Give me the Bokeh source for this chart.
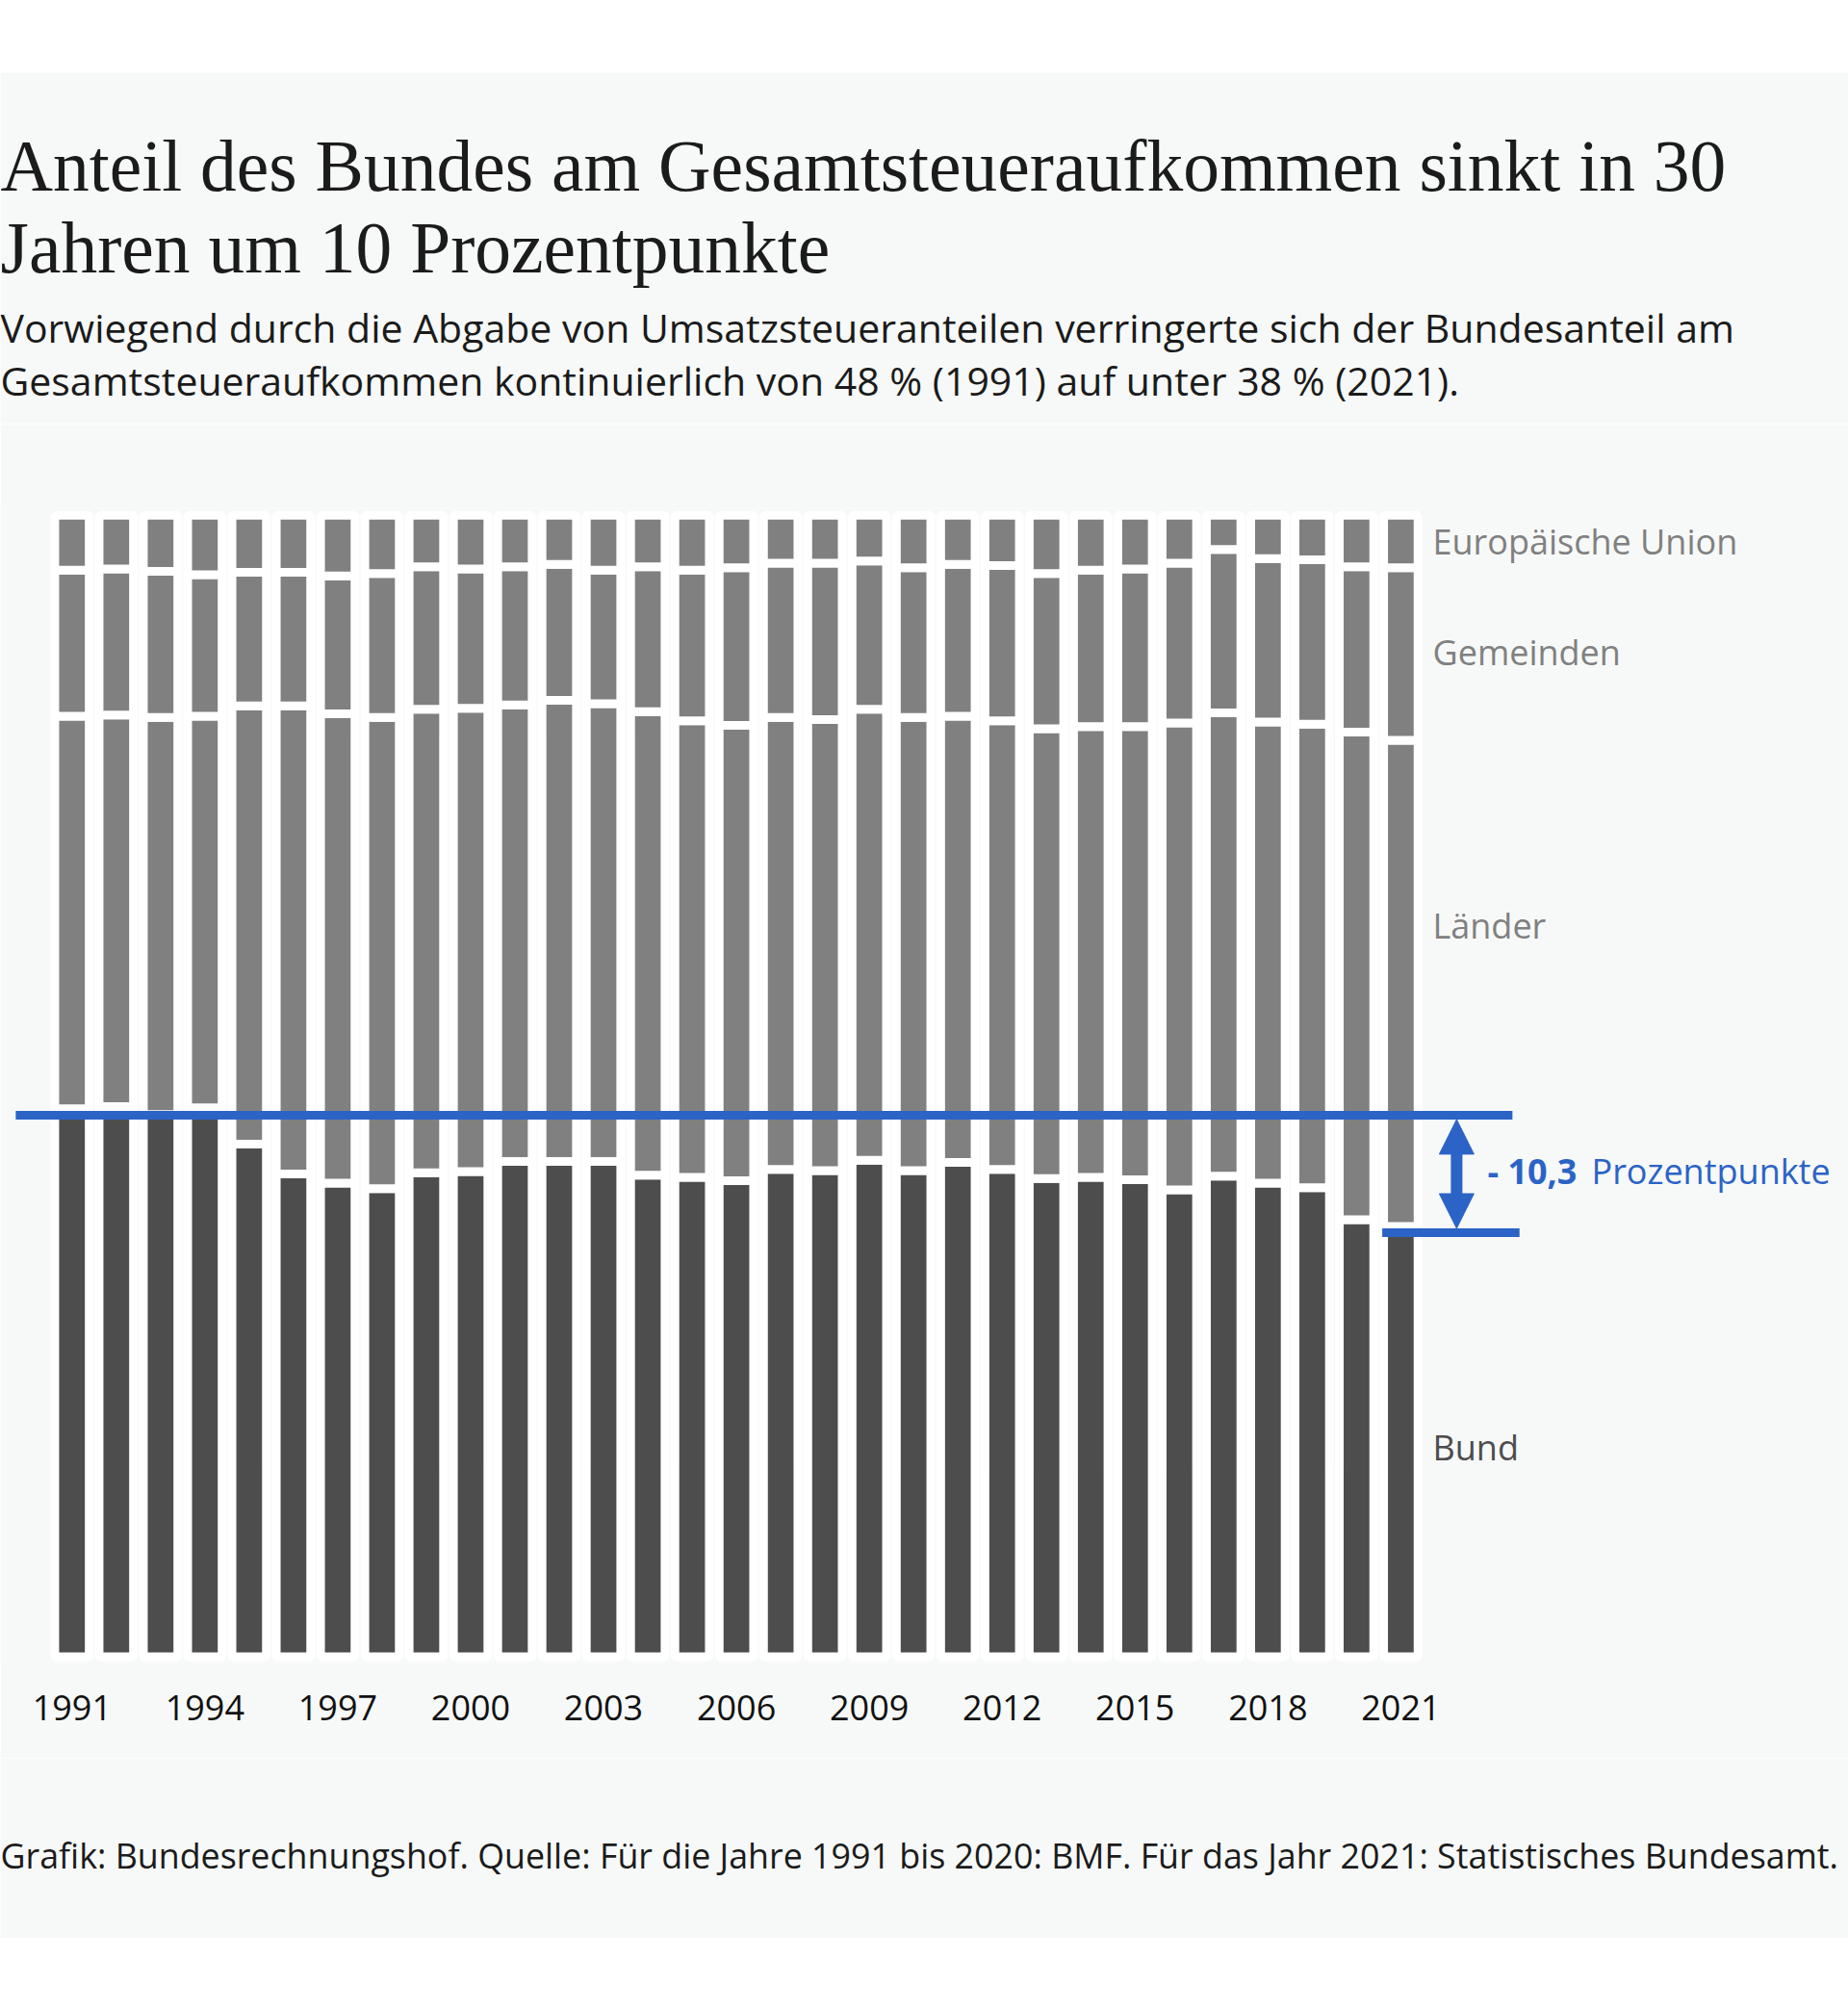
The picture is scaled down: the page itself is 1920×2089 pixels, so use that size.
import numpy as np
from bokeh.plotting import figure
from bokeh.models import ColumnDataSource, Label, FixedTicker, Arrow, NormalHead, Spacer
from bokeh.layouts import column
from bokeh.embed import file_html
from bokeh.resources import INLINE

# ---------------- data (shares of total tax revenue, %) ----------------
years = list(range(1991, 2022))
bund = [48.0, 48.2, 47.5, 48.1, 44.9, 42.3, 41.5, 41.0, 42.4, 42.5,
        43.4, 43.4, 43.4, 42.2, 42.0, 41.7, 42.7, 42.6, 43.5, 42.6,
        43.3, 42.7, 41.9, 42.0, 41.8, 40.9, 42.1, 41.5, 41.1, 38.3, 37.7]
laender = [34.4, 34.3, 34.8, 34.3, 38.4, 41.0, 41.1, 41.3, 40.6, 40.6,
           40.0, 40.4, 40.1, 40.6, 40.0, 39.9, 39.6, 39.5, 39.5, 39.7,
           39.1, 39.3, 39.4, 39.5, 39.7, 40.9, 40.6, 40.4, 40.6, 42.7, 42.6]
gemeinden = [12.8, 12.8, 12.8, 12.4, 11.7, 11.7, 12.1, 12.6, 12.5, 12.2,
             12.1, 11.9, 11.7, 12.7, 13.2, 13.8, 13.5, 13.7, 13.0, 13.1,
             13.3, 13.6, 13.6, 13.7, 13.8, 14.0, 14.3, 14.3, 14.4, 14.5, 15.1]
eu = [4.8, 4.7, 4.9, 5.2, 5.0, 5.0, 5.3, 5.1, 4.5, 4.7,
      4.5, 4.3, 4.8, 4.5, 4.8, 4.6, 4.2, 4.2, 4.0, 4.6,
      4.3, 4.4, 5.1, 4.8, 4.7, 4.2, 3.0, 3.8, 3.9, 4.5, 4.6]
tick_years = years[::3]
series_labels = ["Europäische Union", "Gemeinden", "Länder", "Bund"]
diff_value = "10,3"

# ---------------- styling ----------------
BG = "#f7f9f8"
GREY = "#808080"
DARK = "#4d4d4d"
BLUE = "#2b63c6"
TXT = "#1b1b1b"

W = 1920
PX_YEAR = 46.02      # pixels per year
PX_PCT = 11.857      # pixels per percentage point

# page layout (y in page pixels)
TOP_WHITE = 75
TITLE_BOTTOM = 440
MAIN_BOTTOM = 1826
BOX_BOTTOM = 2013
FRAME_TOP, FRAME_BOTTOM = 528, 1726


def make_text_fig(h):
    f = figure(width=W, height=h, output_backend="svg", toolbar_location=None,
               x_range=(0, 1), y_range=(0, 1), x_axis_location=None, y_axis_location=None,
               min_border=0, min_border_left=0, min_border_right=0,
               min_border_top=0, min_border_bottom=0,
               background_fill_color=BG, border_fill_color=BG, outline_line_color=None)
    f.grid.visible = False
    return f


def lab(fig, fig_bottom_page, text, px, py, size, color, font="Open Sans", style="normal", k=0.42):
    fig.add_layout(Label(x=px, y=fig_bottom_page - py + k * size,
                         x_units="screen", y_units="screen",
                         text=text, text_font=font, text_font_size=f"{size}px",
                         text_color=color, text_font_style=style,
                         text_baseline="alphabetic", text_align="left"))


# ---------------- title block ----------------
ft = make_text_fig(TITLE_BOTTOM - TOP_WHITE)
lab(ft, TITLE_BOTTOM, "Anteil des Bundes am Gesamtsteueraufkommen sinkt in 30", 0, 199, 75.5, TXT,
    "Liberation Serif", k=0.36)
lab(ft, TITLE_BOTTOM, "Jahren um 10 Prozentpunkte", 0, 284, 75.5, TXT, "Liberation Serif", k=0.36)
lab(ft, TITLE_BOTTOM,
    "Vorwiegend durch die Abgabe von Umsatzsteueranteilen verringerte sich der Bundesanteil am",
    0, 357, 41, TXT)
lab(ft, TITLE_BOTTOM,
    "Gesamtsteueraufkommen kontinuierlich von 48 % (1991) auf unter 38 % (2021).",
    0, 412, 41, TXT)

# ---------------- main chart ----------------
H = MAIN_BOTTOM - TITLE_BOTTOM
TOPB = FRAME_TOP - TITLE_BOTTOM
BOTB = MAIN_BOTTOM - FRAME_BOTTOM
FRAME_H = FRAME_BOTTOM - FRAME_TOP
x0 = years[0] - 74.3 / PX_YEAR
y0 = -(1726 - 1720.5) / PX_PCT

p = figure(width=W, height=H, output_backend="svg", toolbar_location=None,
           x_range=(x0, x0 + W / PX_YEAR), y_range=(y0, y0 + FRAME_H / PX_PCT),
           y_axis_location=None, x_axis_location="below",
           min_border_left=0, min_border_right=0,
           min_border_top=TOPB, min_border_bottom=BOTB,
           background_fill_color=BG, border_fill_color=BG,
           outline_line_color=None)
p.grid.visible = False

b = np.array(bund)
l = b + np.array(laender)
g = l + np.array(gemeinden)
e = g + np.array(eu)
src = ColumnDataSource(dict(x=years, zero=np.zeros(len(years)), b=b, l=l, g=g, e=e,
                            base=np.full(len(years), -3 / PX_PCT)))

# white backing columns
p.vbar(x="x", width=0.934, bottom="base", top="e", source=src,
       fill_color="white", line_color=None)
# stacked segments with white separators
seg_w = 0.776
for bot, top, col in [("zero", "b", DARK), ("b", "l", GREY), ("l", "g", GREY), ("g", "e", GREY)]:
    p.vbar(x="x", width=seg_w, bottom=bot, top=top, source=src,
           fill_color=col, line_color="white", line_width=9)

# reference lines & arrow
off = 0.55
y_up = bund[0] - off
y_lo = bund[-1] - off
p.segment(x0=years[0] - 1.27, y0=y_up, x1=years[-1] + 2.52, y1=y_up,
          line_color=BLUE, line_width=9)
p.segment(x0=years[-1] - 0.42, y0=y_lo, x1=years[-1] + 2.68, y1=y_lo,
          line_color=BLUE, line_width=9)
xa = years[-1] + 1.26
half = 4.5 / PX_PCT
p.add_layout(Arrow(x_start=xa, y_start=y_lo + half, x_end=xa, y_end=y_up - half,
                   start=NormalHead(size=36, fill_color=BLUE, line_color=BLUE, line_width=1),
                   end=NormalHead(size=36, fill_color=BLUE, line_color=BLUE, line_width=1),
                   line_color=BLUE, line_width=12))

# axis
ax = p.xaxis[0]
ax.ticker = FixedTicker(ticks=tick_years)
ax.axis_line_color = None
ax.major_tick_line_color = None
ax.minor_tick_line_color = None
ax.major_tick_out = 0
ax.major_label_text_font = "Open Sans"
ax.major_label_text_font_size = "36px"
ax.major_label_text_color = "#111111"
ax.major_label_standoff = 34

lab(p, FRAME_BOTTOM, series_labels[0], 1488, 577, 36, GREY)
lab(p, FRAME_BOTTOM, series_labels[1], 1488, 692, 36, GREY)
lab(p, FRAME_BOTTOM, series_labels[2], 1488, 976, 36, GREY)
lab(p, FRAME_BOTTOM, series_labels[3], 1488, 1518, 36, DARK)
lab(p, FRAME_BOTTOM, "- " + diff_value, 1545, 1231, 36, BLUE, style="bold")
lab(p, FRAME_BOTTOM, "Prozentpunkte", 1653, 1231, 36, BLUE)

# ---------------- footer ----------------
ff = make_text_fig(BOX_BOTTOM - MAIN_BOTTOM)
lab(ff, BOX_BOTTOM, "Grafik: Bundesrechnungshof. Quelle: Für die Jahre 1991 bis 2020: BMF. "
    "Für das Jahr 2021: Statistisches Bundesamt.", 0, 1942, 35.8, TXT)

layout = column(Spacer(width=W, height=TOP_WHITE), ft, p, ff, spacing=0)
open("out.html", "w").write(file_html(layout, INLINE))
